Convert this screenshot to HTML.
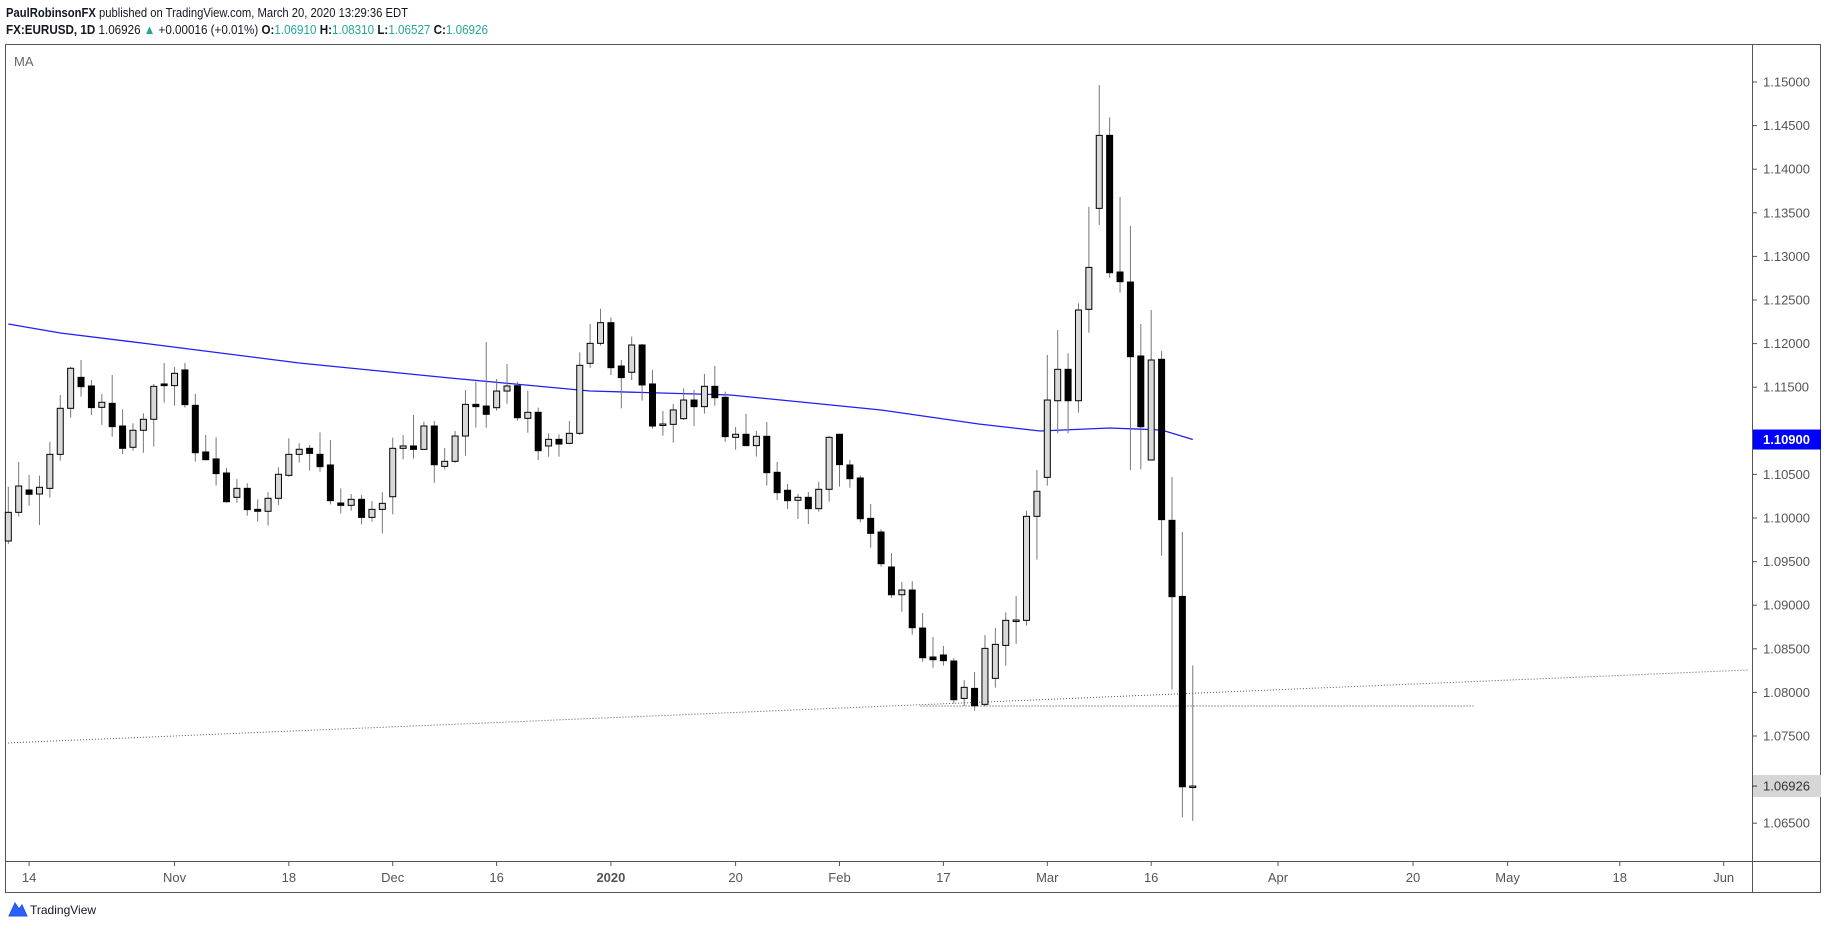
<!DOCTYPE html>
<html><head><meta charset="utf-8">
<style>
html,body{margin:0;padding:0;background:#fff;}
svg{display:block;font-family:"Liberation Sans",sans-serif;}
</style></head>
<body>
<svg id="chart" width="1828" height="930" viewBox="0 0 1828 930" xmlns="http://www.w3.org/2000/svg">
  <g>
    <text x="6" y="17" font-size="13" fill="#131722" textLength="402" lengthAdjust="spacingAndGlyphs"><tspan font-weight="bold">PaulRobinsonFX</tspan> published on TradingView.com, March 20, 2020 13:29:36 EDT</text>
    <text x="6" y="34" font-size="13" fill="#131722" textLength="482" lengthAdjust="spacingAndGlyphs"><tspan font-weight="bold">FX:EURUSD, 1D</tspan> 1.06926 <tspan fill="#26a69a">▲</tspan> +0.00016 (+0.01%) <tspan font-weight="bold">O:</tspan><tspan fill="#26a69a">1.06910</tspan> <tspan font-weight="bold">H:</tspan><tspan fill="#26a69a">1.08310</tspan> <tspan font-weight="bold">L:</tspan><tspan fill="#26a69a">1.06527</tspan> <tspan font-weight="bold">C:</tspan><tspan fill="#26a69a">1.06926</tspan></text>
  </g>
  <rect x="5.5" y="44.5" width="1815" height="848" fill="none" stroke="#555" stroke-width="1"/>
  <line x1="1752.5" y1="44" x2="1752.5" y2="893" stroke="#555"/>
  <line x1="5" y1="861.5" x2="1821" y2="861.5" stroke="#555"/>
  <text x="14" y="66" font-size="13" fill="#666">MA</text>
  <g id="plot"></g>
  <g id="yaxis"></g>
  <g id="xaxis"></g>
  <g>
    <path d="M9 916 L15 903 L19 909 L22 905 L27 916 Z" fill="#2962ff" stroke="#1e53e5" stroke-width="1"/>
    <text x="30" y="914" font-size="12" fill="#131722">TradingView</text>
  </g>
</svg>
<script>
const opens=[1.09736,1.10065,1.10321,1.10275,1.10340,1.10730,1.11258,1.11613,1.11514,1.11269,1.11315,1.11055,1.10811,1.11006,1.11132,1.11537,1.11518,1.11698,1.11292,1.10757,1.10677,1.10516,1.10237,1.10340,1.10099,1.10077,1.10226,1.10489,1.10730,1.10799,1.10730,1.10608,1.10172,1.10145,1.10214,1.10007,1.10099,1.10244,1.10799,1.10826,1.10787,1.11055,1.10592,1.10650,1.10940,1.11303,1.11284,1.11265,1.11456,1.11517,1.11143,1.11212,1.10826,1.10902,1.10856,1.10971,1.11774,1.12003,1.12240,1.11743,1.11671,1.11984,1.11537,1.11070,1.11074,1.11139,1.11353,1.11277,1.11510,1.11384,1.10925,1.10960,1.10830,1.10937,1.10524,1.10318,1.10203,1.10237,1.10107,1.10329,1.10960,1.10608,1.10459,1.09996,1.09839,1.09438,1.09120,1.09174,1.08738,1.08406,1.08429,1.08360,1.07931,1.08046,1.07863,1.08161,1.08539,1.08826,1.08826,1.10019,1.10466,1.11345,1.11705,1.11345,1.12393,1.13551,1.14388,1.12821,1.12706,1.11858,1.10665,1.11820,1.09973,1.09101,1.06910];
const highs=[1.10360,1.10642,1.10495,1.10486,1.10872,1.11411,1.11736,1.11812,1.11583,1.11422,1.11640,1.11246,1.11086,1.11201,1.11537,1.11778,1.11732,1.11778,1.11422,1.10952,1.10925,1.10574,1.10447,1.10398,1.10214,1.10295,1.10581,1.10914,1.10857,1.10837,1.10982,1.10894,1.10340,1.10275,1.10264,1.10195,1.10294,1.10921,1.10952,1.11181,1.11105,1.11112,1.10803,1.10998,1.11468,1.11563,1.12018,1.11594,1.11766,1.11563,1.11460,1.11265,1.10971,1.10959,1.11112,1.11900,1.12225,1.12400,1.12300,1.11812,1.12080,1.11996,1.11698,1.11227,1.11308,1.11487,1.11468,1.11652,1.11743,1.11449,1.11044,1.11193,1.10998,1.11101,1.10642,1.10390,1.10275,1.10298,1.10413,1.10944,1.10964,1.10665,1.10489,1.10160,1.09870,1.09598,1.09266,1.09277,1.08910,1.08635,1.08532,1.08394,1.08142,1.08234,1.08658,1.08738,1.08918,1.09105,1.10084,1.10550,1.11869,1.12156,1.11888,1.12462,1.13570,1.14966,1.14595,1.13681,1.13349,1.12225,1.12385,1.11915,1.10470,1.09839,1.08310];
const lows=[1.09700,1.10015,1.10142,1.09920,1.10233,1.10658,1.11151,1.11392,1.11181,1.11067,1.10933,1.10734,1.10772,1.10749,1.10818,1.11323,1.11288,1.11266,1.10646,1.10660,1.10371,1.10176,1.10176,1.10027,1.09958,1.09912,1.10149,1.10474,1.10635,1.10543,1.10531,1.10157,1.10053,1.10084,1.09927,1.09958,1.09824,1.10042,1.10673,1.10680,1.10780,1.10405,1.10558,1.10634,1.10715,1.11036,1.11036,1.11231,1.11311,1.11116,1.10978,1.10665,1.10703,1.10703,1.10845,1.10952,1.11724,1.11977,1.11640,1.11258,1.11583,1.11346,1.11025,1.10944,1.10864,1.11124,1.11055,1.11197,1.11288,1.10876,1.10784,1.10830,1.10704,1.10371,1.10207,1.10103,1.09989,1.09931,1.10073,1.10187,1.10360,1.10348,1.09950,1.09660,1.09442,1.09086,1.08925,1.08662,1.08352,1.08283,1.08306,1.07874,1.07844,1.07790,1.07840,1.08054,1.08306,1.08558,1.08765,1.09522,1.10371,1.10971,1.10971,1.11208,1.12125,1.13360,1.12756,1.12584,1.10550,1.10558,1.10661,1.09568,1.08035,1.06567,1.06527];
const closes=[1.10065,1.10367,1.10272,1.10352,1.10730,1.11258,1.11717,1.11506,1.11266,1.11327,1.11048,1.10799,1.11006,1.11132,1.11510,1.11518,1.11659,1.11300,1.10749,1.10669,1.10509,1.10187,1.10340,1.10096,1.10077,1.10226,1.10501,1.10730,1.10788,1.10741,1.10589,1.10199,1.10145,1.10214,1.10007,1.10099,1.10168,1.10799,1.10826,1.10787,1.11055,1.10611,1.10650,1.10940,1.11303,1.11277,1.11189,1.11456,1.11514,1.11150,1.11212,1.10772,1.10902,1.10848,1.10971,1.11751,1.12003,1.12240,1.11724,1.11610,1.11984,1.11526,1.11055,1.11078,1.11239,1.11353,1.11277,1.11510,1.11380,1.10933,1.10960,1.10830,1.10937,1.10520,1.10291,1.10199,1.10237,1.10107,1.10329,1.10925,1.10612,1.10451,1.09992,1.09824,1.09476,1.09120,1.09174,1.08742,1.08398,1.08375,1.08364,1.07916,1.08058,1.07847,1.08505,1.08551,1.08826,1.08830,1.10019,1.10306,1.11353,1.11705,1.11345,1.12385,1.12874,1.14388,1.12813,1.12710,1.11850,1.11047,1.11812,1.09981,1.09098,1.06918,1.06926];
const maIndex=[0,5,13.6,28,42.5,56,69.5,84,93.4,99.3,106,111,114];
const maValues=[1.12225,1.12122,1.11995,1.11778,1.11606,1.11456,1.11411,1.11239,1.11078,1.10998,1.11032,1.11009,1.10900];
const priceTicks=[1.15,1.145,1.14,1.135,1.13,1.125,1.12,1.115,1.105,1.10,1.095,1.09,1.085,1.08,1.075,1.065];
const timeTickLabels=["14","Nov","18","Dec","16","2020","20","Feb","17","Mar","16","Apr","20","May","18","Jun"];
const timeTickIndex=[2,16,27,37,47,58,70,80,90,100,110,122.2,135.2,144.3,155.1,165.1];
const trendStart=[-0.03,1.07420];
const trendEnd=[167.5,1.08257];
const supportLevel=1.07844;
const supportRange=[87.8,141];
const lastMA=1.10900;
const lastClose=1.06926;

const NS="http://www.w3.org/2000/svg";
const X0=8.3, BW=10.39;
function xs(i){return X0+i*BW;}
function ys(p){return 82+(1.15-p)*8720;}
function mk(tag,attrs,parent){const e=document.createElementNS(NS,tag);for(const k in attrs)e.setAttribute(k,attrs[k]);parent.appendChild(e);return e;}
const plot=document.getElementById('plot');
const yaxis=document.getElementById('yaxis');
const xaxis=document.getElementById('xaxis');

// trend lines
let tl=mk('line',{x1:xs(trendStart[0]),y1:ys(trendStart[1]),x2:xs(trendEnd[0]),y2:ys(trendEnd[1]),stroke:'#555','stroke-width':1,'stroke-dasharray':'1 2'},plot);


let hl=mk('line',{x1:xs(supportRange[0]),y1:ys(supportLevel),x2:xs(supportRange[1]),y2:ys(supportLevel),stroke:'#333','stroke-width':1,'stroke-dasharray':'1 2'},plot);



// MA line
let pts=maIndex.map((v,k)=>xs(v).toFixed(1)+','+ys(maValues[k]).toFixed(1)).join(' ');
let ma=mk('polyline',{points:pts,fill:'none',stroke:'#2020f0','stroke-width':1.3},plot);



// candles
for(let i=0;i<opens.length;i++){
  const o=opens[i],h=highs[i],l=lows[i],c=closes[i];
  const x=xs(i);
  const g=mk('g',{},plot);
  
  
  const w=mk('line',{x1:x,y1:ys(h),x2:x,y2:ys(l),stroke:'#777','stroke-width':1},g);
  
  
  const up=c>=o;
  const top=ys(Math.max(o,c)), bot=ys(Math.min(o,c));
  const hgt=Math.max(bot-top,1.5);
  const b=mk('rect',{x:x-3,y:top,width:6,height:hgt,fill:up?'#d9d9d9':'#000',stroke:'#000','stroke-width':1},g);
  
  
}

// price axis
priceTicks.forEach(p=>{
  const y=ys(p);
  const t=mk('line',{x1:1752,y1:y,x2:1757,y2:y,stroke:'#555'},yaxis);
  
  
  const tx=mk('text',{x:1763,y:y+4.5,'font-size':13,fill:'#555'},yaxis);
  
  
  tx.textContent=p.toFixed(5);
});
// MA label
{
  const y=ys(lastMA);
  const r=mk('rect',{x:1753,y:y-10,width:68,height:20,fill:'#0000ff'},yaxis);
  
  
  const t=mk('text',{x:1763,y:y+4.5,'font-size':13,'font-weight':'bold',fill:'#fff'},yaxis);
  
  
  t.textContent=lastMA.toFixed(5);
  const y2=ys(lastClose);
  const r2=mk('rect',{x:1753,y:y2-11,width:68,height:22,fill:'#d6d6d6'},yaxis);
  
  
  mk('line',{x1:1752,y1:y2,x2:1757,y2:y2,stroke:'#333'},yaxis);
  const t2=mk('text',{x:1763,y:y2+4.5,'font-size':13,fill:'#333'},yaxis);
  
  
  t2.textContent=lastClose.toFixed(5);
}
// time axis
timeTickLabels.forEach((lab,k)=>{
  const x=xs(timeTickIndex[k]);
  const t=mk('line',{x1:x,y1:862,x2:x,y2:866,stroke:'#555'},xaxis);
  
  
  const tx=mk('text',{x:x,y:882,'font-size':13,fill:'#555','text-anchor':'middle','font-weight':lab==='2020'?'bold':'normal'},xaxis);
  
  
  tx.textContent=lab;
});
</script>
</body></html>
